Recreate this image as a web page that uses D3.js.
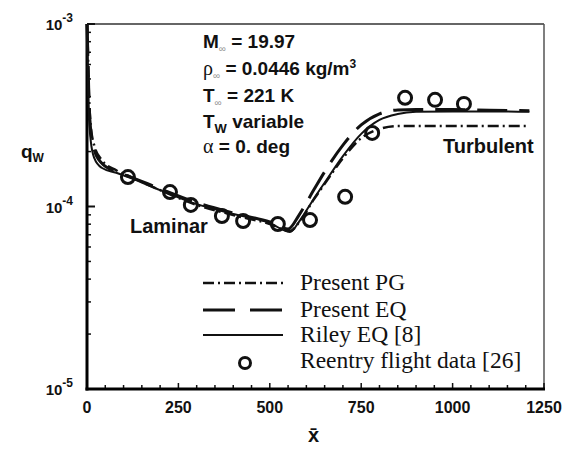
<!DOCTYPE html>
<html>
<head>
<meta charset="utf-8">
<script src="https://d3js.org/d3.v7.min.js"></script>
<style>
  body { margin: 0; background: #fff; }
  svg { display: block; }
  .tick-lab { font-family: "Liberation Sans", Arial, sans-serif; font-weight: bold; fill: #111; }
  .note { font-family: "Liberation Sans", Arial, sans-serif; font-weight: bold; font-size: 19px; fill: #111; }
  .legend { font-family: "Liberation Serif", "Times New Roman", serif; font-size: 23.5px; fill: #111; }
</style>
</head>
<body>
<svg id="chart" width="566" height="451"></svg>
<script>
'use strict'

// flight data (circles)
let flight_x = [112, 227, 284, 369, 427, 522, 610, 706, 780, 870, 952, 1031]
let flight_q = [1.45e-4, 1.20e-4, 1.02e-4, 8.87e-5, 8.33e-5, 8.02e-5, 8.43e-5, 1.13e-4, 2.53e-4, 3.94e-4, 3.84e-4, 3.65e-4]

// Riley EQ [8]
let riley_x = [0, 2, 5, 10, 20, 40, 80, 120, 200, 300, 400, 500, 555, 583, 620, 650, 700, 750, 800, 850, 900, 1000, 1100, 1210]
let riley_q = [1.0e-3, 6.35e-4, 3.38e-4, 2.31e-4, 1.84e-4, 1.63e-4, 1.53e-4, 1.43e-4, 1.23e-4, 1.03e-4, 9.10e-5, 8.12e-5, 7.25e-5, 8.43e-5, 1.10e-4, 1.35e-4, 1.89e-4, 2.50e-4, 2.98e-4, 3.21e-4, 3.30e-4, 3.32e-4, 3.32e-4, 3.30e-4]

// Present EQ
let eq_x = [0, 2, 5, 10, 20, 40, 80, 120, 200, 300, 400, 500, 550, 580, 620, 650, 700, 750, 800, 850, 900, 1000, 1100, 1210]
let eq_q = [1.0e-3, 7.20e-4, 4.08e-4, 2.63e-4, 2.04e-4, 1.73e-4, 1.55e-4, 1.45e-4, 1.25e-4, 1.05e-4, 9.21e-5, 8.22e-5, 7.53e-5, 8.98e-5, 1.23e-4, 1.55e-4, 2.17e-4, 2.80e-4, 3.22e-4, 3.38e-4, 3.40e-4, 3.40e-4, 3.37e-4, 3.35e-4]

// Present PG
let pg_x = [0, 2, 5, 10, 20, 40, 80, 120, 200, 300, 400, 500, 555, 583, 620, 650, 700, 750, 800, 850, 900, 1000, 1100, 1200]
let pg_q = [1.0e-3, 7.67e-4, 4.35e-4, 2.80e-4, 2.15e-4, 1.80e-4, 1.58e-4, 1.45e-4, 1.23e-4, 1.02e-4, 8.98e-5, 8.02e-5, 7.34e-5, 8.33e-5, 1.09e-4, 1.33e-4, 1.84e-4, 2.37e-4, 2.66e-4, 2.76e-4, 2.76e-4, 2.76e-4, 2.76e-4, 2.76e-4]

let x_ticks = [0, 250, 500, 750, 1000, 1250]
let y_ticks = [1e-3, 1e-4, 1e-5]
let y_tick_exps = ['-3', '-4', '-5']

let legend_labels = ['Present PG', 'Present EQ', 'Riley EQ [8]', 'Reentry flight data [26]']

function zip(xs, ys){
	return xs.map(function(x, i){ return [x, ys[i]] })
}

function draw(){
	let svg = d3.select('#chart')
	let plot = {left: 87, top: 24, right: 544, bottom: 389}

	let xScale = d3.scaleLinear().domain([0, 1250]).range([plot.left, plot.right])
	let yScale = d3.scaleLog().domain([1e-5, 1e-3]).range([plot.bottom, plot.top])

	// frame, thin top and right
	svg.append('line').attr('x1', plot.left).attr('x2', plot.right).attr('y1', plot.top).attr('y2', plot.top)
		.attr('stroke', '#333').attr('stroke-width', 1.5)
	svg.append('line').attr('x1', plot.right).attr('x2', plot.right).attr('y1', plot.top).attr('y2', plot.bottom)
		.attr('stroke', '#555').attr('stroke-width', 1.5)

	// x minor / major ticks, pointing up into the plot
	let x_minor = d3.range(0, 1251, 50)
	svg.append('g').selectAll('line').data(x_minor).enter().append('line')
		.attr('x1', function(d){ return xScale(d) }).attr('x2', function(d){ return xScale(d) })
		.attr('y1', plot.bottom)
		.attr('y2', function(d){ return d % 250 == 0 ? plot.bottom - 6 : plot.bottom - 4 })
		.attr('stroke', '#111').attr('stroke-width', 1.5)

	svg.append('g').selectAll('text').data(x_ticks).enter().append('text')
		.attr('class', 'tick-lab')
		.attr('x', function(d){ return xScale(d) })
		.attr('y', plot.bottom + 24)
		.attr('text-anchor', 'middle')
		.style('font-size', '16px')
		.text(function(d){ return d })

	// y minor ticks on the log axis
	let y_minor = []
	;[1e-5, 1e-4].forEach(function(dec){
		for (let k = 2; k <= 9; k++) y_minor.push(dec * k)
	})
	svg.append('g').selectAll('line').data(y_minor).enter().append('line')
		.attr('x1', plot.left).attr('x2', plot.left + 4)
		.attr('y1', function(d){ return yScale(d) }).attr('y2', function(d){ return yScale(d) })
		.attr('stroke', '#111').attr('stroke-width', 1.5)
	svg.append('g').selectAll('line').data(y_ticks).enter().append('line')
		.attr('x1', plot.left).attr('x2', plot.left + 8)
		.attr('y1', function(d){ return yScale(d) }).attr('y2', function(d){ return yScale(d) })
		.attr('stroke', '#111').attr('stroke-width', 2)

	let ylab = svg.append('g').selectAll('text').data(y_ticks).enter().append('text')
		.attr('class', 'tick-lab')
		.attr('x', plot.left - 14)
		.attr('y', function(d){ return yScale(d) + 6 })
		.attr('text-anchor', 'end')
		.style('font-size', '15px')
	ylab.append('tspan').text('10')
	ylab.append('tspan').attr('dy', -8).style('font-size', '12px').text(function(d, i){ return y_tick_exps[i] })

	// thick left and bottom axes
	svg.append('line').attr('x1', plot.left).attr('x2', plot.left).attr('y1', plot.top).attr('y2', plot.bottom + 1.5)
		.attr('stroke', '#000').attr('stroke-width', 3)
	svg.append('line').attr('x1', plot.left - 1.5).attr('x2', plot.right + 1).attr('y1', plot.bottom).attr('y2', plot.bottom)
		.attr('stroke', '#000').attr('stroke-width', 3)

	// axis titles
	let qlab = svg.append('text').attr('class', 'note').attr('x', 21).attr('y', 158)
	qlab.append('tspan').text('q')
	qlab.append('tspan').attr('dy', 4).style('font-size', '12px').text('W')

	svg.append('text').attr('class', 'note').attr('x', xScale(620)).attr('y', 442)
		.attr('text-anchor', 'middle').style('font-size', '20px').text('x\u0304')

	// curves
	let line = d3.line()
		.x(function(d){ return xScale(d[0]) })
		.y(function(d){ return yScale(d[1]) })
		.curve(d3.curveMonotoneX)

	let g = svg.append('g')
	g.append('path').datum(zip(pg_x, pg_q)).attr('d', line)
		.attr('fill', 'none').attr('stroke', '#111').attr('stroke-width', 2.5)
		.attr('stroke-dasharray', '11,4,2,4')
	g.append('path').datum(zip(eq_x, eq_q)).attr('d', line)
		.attr('fill', 'none').attr('stroke', '#111').attr('stroke-width', 3)
		.attr('stroke-dasharray', '30,12')
	g.append('path').datum(zip(riley_x, riley_q)).attr('d', line)
		.attr('fill', 'none').attr('stroke', '#111').attr('stroke-width', 2)

	g.selectAll('.pt').data(zip(flight_x, flight_q)).enter().append('circle')
		.attr('class', 'pt')
		.attr('cx', function(d){ return xScale(d[0]) })
		.attr('cy', function(d){ return yScale(d[1]) })
		.attr('r', 6.5)
		.attr('fill', 'none').attr('stroke', '#111').attr('stroke-width', 3)

	// annotations
	let notes = svg.append('g').attr('class', 'note')
	let t1 = notes.append('text').attr('x', 203).attr('y', 48)
	t1.append('tspan').text('M')
	t1.append('tspan').attr('dy', 4).style('font-size', '10px').style('fill', '#999').style('font-weight', 'normal').text('\u221e')
	t1.append('tspan').attr('dy', -4).text(' = 19.97')

	let t2 = notes.append('text').attr('x', 203).attr('y', 75)
	t2.append('tspan').style('font-family', '"Liberation Serif", serif').style('font-weight', 'normal').style('font-size', '20px').text('\u03c1')
	t2.append('tspan').attr('dy', 4).style('font-size', '10px').style('fill', '#999').style('font-weight', 'normal').text('\u221e')
	t2.append('tspan').attr('dy', -4).text(' = 0.0446 kg/m')
	t2.append('tspan').attr('dy', -7).style('font-size', '12px').text('3')

	let t3 = notes.append('text').attr('x', 203).attr('y', 102)
	t3.append('tspan').text('T')
	t3.append('tspan').attr('dy', 4).style('font-size', '10px').style('fill', '#999').style('font-weight', 'normal').text('\u221e')
	t3.append('tspan').attr('dy', -4).text(' = 221 K')

	let t4 = notes.append('text').attr('x', 203).attr('y', 128)
	t4.append('tspan').text('T')
	t4.append('tspan').attr('dy', 5).style('font-size', '13px').text('W')
	t4.append('tspan').attr('dy', -5).text(' variable')

	let t5 = notes.append('text').attr('x', 203).attr('y', 153)
	t5.append('tspan').style('font-family', '"Liberation Serif", serif').style('font-weight', 'normal').style('font-size', '20px').text('\u03b1')
	t5.append('tspan').text(' = 0. deg')

	notes.append('text').attr('x', 130).attr('y', 233).style('font-size', '20px').text('Laminar')
	notes.append('text').attr('x', 443).attr('y', 153).style('font-size', '20px').text('Turbulent')

	// legend
	let leg = svg.append('g')
	let leg_y = [290, 317, 342, 368]
	let leg_styles = [
		{dash: '11,4,2,4', w: 2.5},
		{dash: '32,15', w: 3},
		{dash: null, w: 2}
	]
	leg_styles.forEach(function(s, i){
		leg.append('line').attr('x1', 203).attr('x2', 283)
			.attr('y1', leg_y[i] - 7).attr('y2', leg_y[i] - 7)
			.attr('stroke', '#111').attr('stroke-width', s.w)
			.attr('stroke-dasharray', s.dash)
	})
	leg.append('circle').attr('cx', 245).attr('cy', leg_y[3] - 5).attr('r', 5.5)
		.attr('fill', 'none').attr('stroke', '#111').attr('stroke-width', 3)
	leg.selectAll('text').data(legend_labels).enter().append('text')
		.attr('class', 'legend')
		.attr('x', 300)
		.attr('y', function(d, i){ return leg_y[i] })
		.text(function(d){ return d })
}

draw()
</script>
</body>
</html>
